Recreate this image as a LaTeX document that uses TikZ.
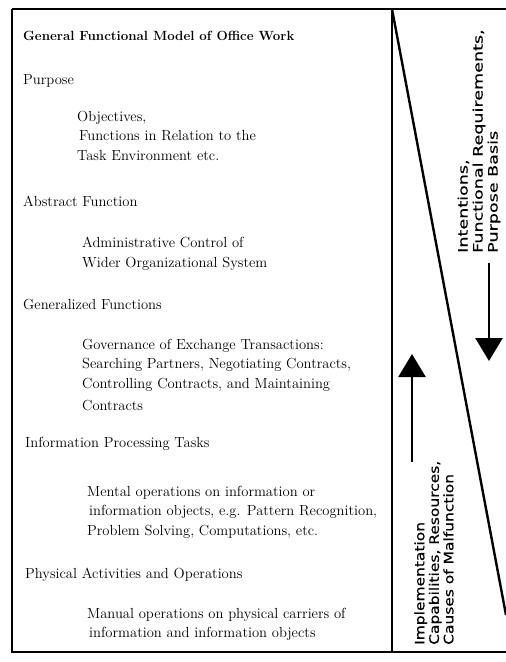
\documentclass[tikz,border=0pt]{standalone}
\usepackage{fontspec}
\newfontfamily\sidefontup[FakeStretch=1.35,FakeBold=0.4]{DejaVu Sans}
\newfontfamily\sidefontlow[FakeStretch=1.19,FakeBold=0.4]{DejaVu Sans}
\usetikzlibrary{arrows.meta,positioning}

\begin{document}
\begin{tikzpicture}[
    x=1pt, y=-1pt,
    frame/.style={line width=2.4pt},
    title/.style={
      anchor=base west, inner sep=0pt,
      font=\bfseries\fontsize{13.3}{19}\selectfont,
    },
    head/.style={
      anchor=base west, inner sep=0pt,
      font=\fontsize{14.6}{19.5}\selectfont,
    },
    desc/.style={
      anchor=north west, inner sep=0pt, align=left,
      font=\fontsize{14.6}{19.5}\selectfont,
    },
    sideup/.style={
      rotate=90, anchor=west, inner sep=0pt, align=left,
      font=\fontsize{13}{15}\sidefontup,
    },
    sidelow/.style={
      rotate=90, anchor=west, inner sep=0pt, align=left,
      font=\fontsize{13}{14.5}\sidefontlow,
    },
    bigarr/.style={line width=2.4pt, -{Triangle[width=27pt,length=23pt]}},
  ]
  \useasboundingbox (0,0) rectangle (506,662);

  % Frame and divider
  \draw[frame] (12,9) -- (506,9);
  \draw[frame] (12,9) -- (12,652) -- (506,652);
  \draw[frame] (392,9) -- (392,652);
  \draw[frame] (392,9) -- (506,615);

  % Left column: levels of the model
  \node[title] (model) at (23,40) {General Functional Model of Office Work};

  \node[head] (purpose) at (23,84) {Purpose};
  \node[desc] (purposetxt) at (77,111)
    {Objectives,\\\hspace{2pt}Functions in Relation to the\\Task Environment etc.};

  \node[head] (abstract) at (23,206) {Abstract Function};
  \node[desc] (abstracttxt) at (82,237)
    {Administrative Control of\\Wider Organizational System};

  \node[head] (general) at (23,309) {Generalized Functions};
  \node[desc] (generaltxt) at (82,339)
    {Governance of Exchange Transactions:\\Searching Partners, Negotiating Contracts,\\Controlling Contracts, and Maintaining\\[3pt]Contracts};

  \node[head] (infoproc) at (25,447) {Information Processing Tasks};
  \node[desc] (infoproctxt) at (87,486)
    {Mental operations on information or\\\hspace{2pt}information objects, e.g. Pattern Recognition,\\Problem Solving, Computations, etc.};

  \node[head] (physical) at (25,578) {Physical Activities and Operations};
  \node[desc] (physicaltxt) at (87,608)
    {Manual operations on physical carriers of\\\hspace{2pt}information and information objects};

  % Right column: directions of reasoning
  \node[sideup] (intent) at (479,253)
    {Intentions,\\Functional Requirements,\\Purpose Basis};
  \node[sidelow] (implem) at (434,645)
    {Implementation\\Capabilities, Resources,\\Causes of Malfunction};

  \coordinate (downtail) at (489,263);
  \coordinate (downtip) at (489,361);
  \coordinate (uptail) at (412,462);
  \coordinate (uptip) at (412,354);
  \draw[bigarr] (downtail) -- (downtip);
  \draw[bigarr] (uptail) -- (uptip);

\end{tikzpicture}
\end{document}
